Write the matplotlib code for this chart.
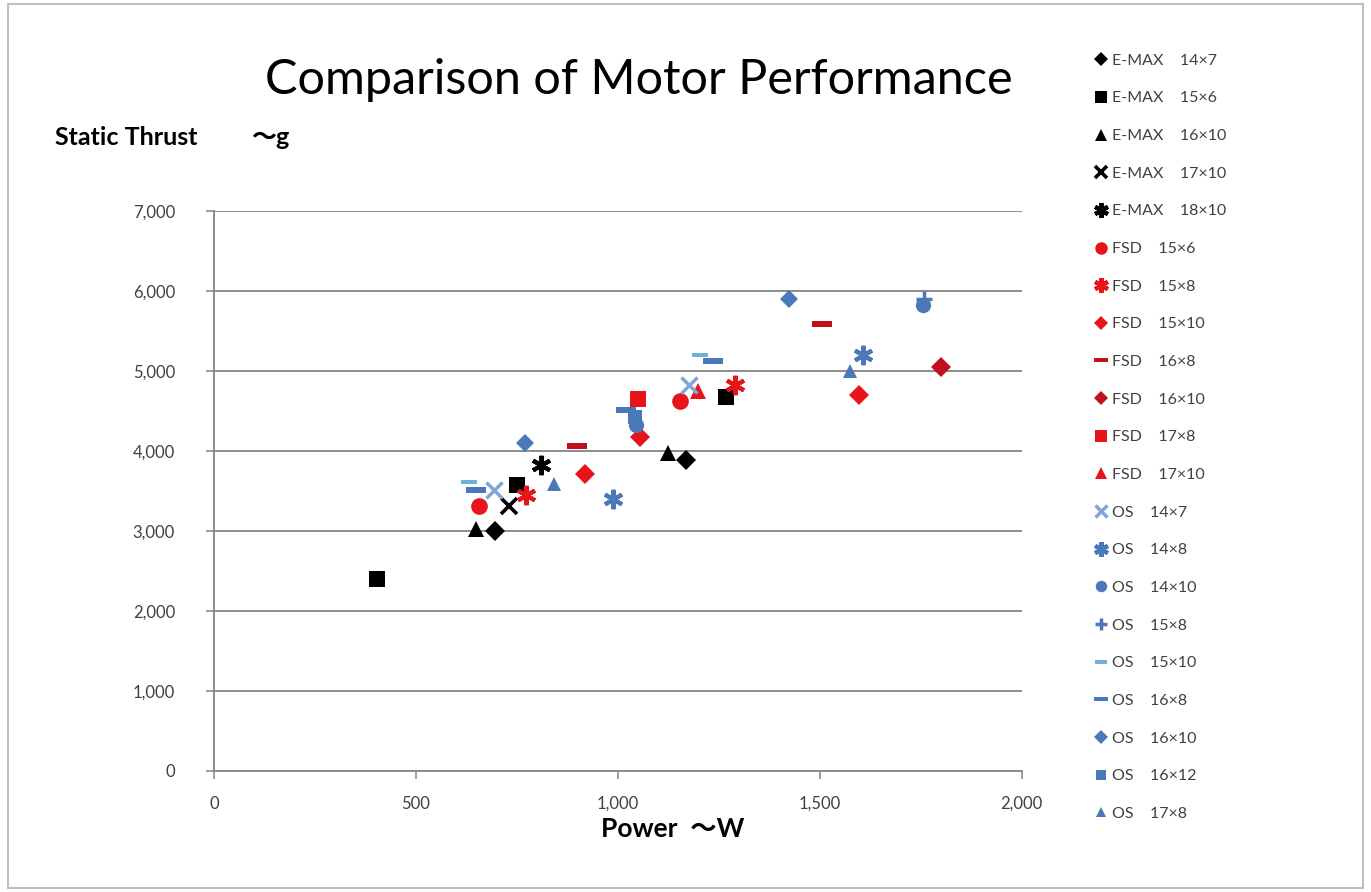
import matplotlib
matplotlib.use("Agg")
import matplotlib.pyplot as plt
from matplotlib.ticker import FuncFormatter
from matplotlib.patches import Rectangle

plt.rcParams['font.family'] = ['Lato', 'Noto Sans CJK JP', 'DejaVu Sans']

# Power (W) and static thrust (g) per motor / propeller combination
emax_14x7_w = [695, 1170]
emax_14x7_g = [3000, 3890]
emax_15x6_w = [405, 750, 1267]
emax_15x6_g = [2400, 3580, 4680]
emax_16x10_w = [650, 1125]
emax_16x10_g = [3020, 3980]
emax_17x10_w = [730]
emax_17x10_g = [3310]
emax_18x10_w = [810]
emax_18x10_g = [3820]

fsd_15x6_w = [656, 1155]
fsd_15x6_g = [3310, 4630]
fsd_15x8_w = [772, 1290]
fsd_15x8_g = [3450, 4820]
fsd_15x10_w = [920, 1055, 1597]
fsd_15x10_g = [3710, 4180, 4700]
fsd_16x8_w = [900, 1505]
fsd_16x8_g = [4060, 5590]
fsd_16x10_w = [1800]
fsd_16x10_g = [5045]
fsd_17x8_w = [1050]
fsd_17x8_g = [4650]
fsd_17x10_w = [1200]
fsd_17x10_g = [4750]

os_14x7_w = [693, 1176]
os_14x7_g = [3510, 4820]
os_14x8_w = [988, 1608]
os_14x8_g = [3400, 5200]
os_14x10_w = [1045, 1757]
os_14x10_g = [4330, 5830]
os_15x8_w = [1758]
os_15x8_g = [5900]
os_15x10_w = [632, 1203]
os_15x10_g = [3610, 5200]
os_16x8_w = [650, 1020, 1235]
os_16x8_g = [3510, 4510, 5120]
os_16x10_w = [770, 1425]
os_16x10_g = [4100, 5900]
os_16x12_w = [1042]
os_16x12_g = [4430]
os_17x8_w = [842, 1575]
os_17x8_g = [3590, 5000]

x_ticks = [0, 500, 1000, 1500, 2000]
y_ticks = [0, 1000, 2000, 3000, 4000, 5000, 6000, 7000]

BLACK = '#000000'
RED = '#e8141c'
DARK_RED = '#c0101c'
BLUE = '#4a78b8'
LIGHT_BLUE = '#7fa6d6'
PALE_BLUE = '#6fb0d6'

ASTERISK = (6, 2, 0)
DASH = [(-1.0, -0.28), (1.0, -0.28), (1.0, 0.28), (-1.0, 0.28), (-1.0, -0.28)]

series = [
    ('E-MAX    14×7', emax_14x7_w, emax_14x7_g, 'D', BLACK, 10, 0),
    ('E-MAX    15×6', emax_15x6_w, emax_15x6_g, 's', BLACK, 11, 0),
    ('E-MAX    16×10', emax_16x10_w, emax_16x10_g, '^', BLACK, 12, 0),
    ('E-MAX    17×10', emax_17x10_w, emax_17x10_g, 'x', BLACK, 12, 2.6),
    ('E-MAX    18×10', emax_18x10_w, emax_18x10_g, ASTERISK, BLACK, 14, 3),
    ('FSD    15×6', fsd_15x6_w, fsd_15x6_g, 'o', RED, 12, 0),
    ('FSD    15×8', fsd_15x8_w, fsd_15x8_g, ASTERISK, RED, 14, 3),
    ('FSD    15×10', fsd_15x10_w, fsd_15x10_g, 'D', RED, 10, 0),
    ('FSD    16×8', fsd_16x8_w, fsd_16x8_g, DASH, DARK_RED, 14, 0),
    ('FSD    16×10', fsd_16x10_w, fsd_16x10_g, 'D', DARK_RED, 10, 0),
    ('FSD    17×8', fsd_17x8_w, fsd_17x8_g, 's', RED, 11, 0),
    ('FSD    17×10', fsd_17x10_w, fsd_17x10_g, '^', RED, 12, 0),
    ('OS    14×7', os_14x7_w, os_14x7_g, 'x', LIGHT_BLUE, 12, 2.5),
    ('OS    14×8', os_14x8_w, os_14x8_g, ASTERISK, BLUE, 14, 3),
    ('OS    14×10', os_14x10_w, os_14x10_g, 'o', BLUE, 11, 0),
    ('OS    15×8', os_15x8_w, os_15x8_g, '+', BLUE, 12, 2.5),
    ('OS    15×10', os_15x10_w, os_15x10_g, DASH, PALE_BLUE, 11, 0),
    ('OS    16×8', os_16x8_w, os_16x8_g, DASH, BLUE, 14, 0),
    ('OS    16×10', os_16x10_w, os_16x10_g, 'D', BLUE, 9, 0),
    ('OS    16×12', os_16x12_w, os_16x12_g, 's', BLUE, 10, 0),
    ('OS    17×8', os_17x8_w, os_17x8_g, '^', BLUE, 10, 0),
]

fig = plt.figure(figsize=(13.71, 8.92), dpi=100)
fig.patch.set_facecolor('white')

# chart area border
fig.patches.append(Rectangle((0.006, 0.005), 0.988, 0.99, transform=fig.transFigure,
                             fill=False, edgecolor='#bfbfbf', linewidth=1.5))

ax = fig.add_axes([0.156, 0.1357, 0.5891, 0.6278])

for label, w, g, marker, color, ms, mew in series:
    ax.plot(w, g, linestyle='none', marker=marker, markersize=ms,
            color=color, markerfacecolor=color, markeredgecolor=color,
            markeredgewidth=mew, label=label, zorder=3)

ax.set_xlim(0, 2000)
ax.set_ylim(0, 7000)
ax.set_xticks(x_ticks)
ax.set_yticks(y_ticks)
fmt = FuncFormatter(lambda v, p: f'{int(v):,}')
ax.xaxis.set_major_formatter(fmt)
ax.yaxis.set_major_formatter(fmt)

ax.grid(axis='y', color='#8c8c8c', linewidth=1.4, zorder=0)
ax.set_axisbelow(True)
for side in ('top', 'right'):
    ax.spines[side].set_visible(False)
for side in ('left', 'bottom'):
    ax.spines[side].set_color('#8c8c8c')
    ax.spines[side].set_linewidth(1.4)
ax.tick_params(axis='both', colors='#8c8c8c', length=6, width=1.2,
               labelcolor='#404040', labelsize=12)
ax.tick_params(axis='x', pad=12)
ax.tick_params(axis='y', pad=22)

fig.text(0.466, 0.910, 'Comparison of Motor Performance', ha='center', va='center',
         fontsize=35, color='#000000')
fig.text(0.04, 0.846, 'Static Thrust', ha='left', va='center',
         fontsize=18, fontweight='bold', color='#000000')
fig.text(0.183, 0.846, '～g', ha='left', va='center',
         fontsize=18, fontweight='bold', color='#000000')
fig.text(0.491, 0.071, 'Power  ～W', ha='center', va='center',
         fontsize=19, fontweight='bold', color='#000000')

fig.legend(loc='upper left', bbox_to_anchor=(0.788, 0.956), frameon=False,
           fontsize=11.5, labelspacing=1.47, handlelength=0.8, handletextpad=0.3,
           markerscale=0.75, labelcolor='#404040')

fig.savefig('out.png', dpi=100)
